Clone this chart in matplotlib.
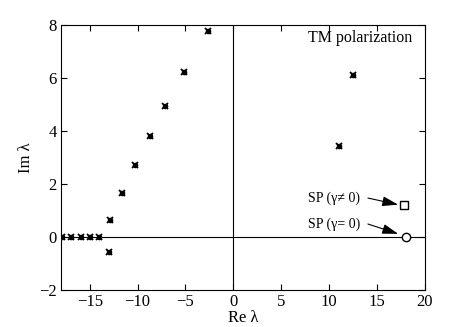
import matplotlib.pyplot as plt

plt.rcParams["font.family"] = ["Liberation Serif", "DejaVu Serif"]

# eigenvalues (Re, Im)
re_vals = [-17.9, -16.95, -15.95, -14.95, -14.0, -13.0, -12.9, -11.6, -10.25,
           -8.75, -7.1, -5.15, -2.7, 11.05, 12.45]
im_vals = [0.0, 0.0, 0.0, 0.0, 0.0, -0.57, 0.63, 1.66, 2.70,
           3.80, 4.94, 6.22, 7.75, 3.45, 6.10]

# surface plasmon points
sp_re = [17.85, 18.0]
sp_im = [1.22, 0.0]
sp_labels = ["SP (\u03b3\u2260 0)", "SP (\u03b3= 0)"]
sp_text_pos = [(7.8, 1.45), (7.8, 0.47)]
arrow_tail = [(14.05, 1.47), (14.05, 0.49)]
arrow_tip = [(17.2, 1.22), (17.2, 0.12)]

xticks = [-15, -10, -5, 0, 5, 10, 15, 20]
yticks = [-2, 0, 2, 4, 6, 8]

fig = plt.figure(figsize=(4.69, 3.27), dpi=100)
ax = fig.add_axes([0.130, 0.113, 0.776, 0.811])

ax.axhline(0, color="black", lw=0.8, zorder=1)
ax.axvline(0, color="black", lw=0.8, zorder=1)

ax.plot(re_vals, im_vals, "x", color="black", ms=5, mew=1.3, zorder=3)
ax.plot(re_vals, im_vals, ".", color="black", ms=6, zorder=3)

ax.plot(sp_re[0], sp_im[0], "s", mfc="white", mec="black", ms=6, mew=1.0, zorder=3)
ax.plot(sp_re[1], sp_im[1], "o", mfc="white", mec="black", ms=6, mew=1.0, zorder=3)

for lbl, (tx, ty), tail, tip in zip(sp_labels, sp_text_pos, arrow_tail, arrow_tip):
    ax.text(tx, ty, lbl, fontsize=10, ha="left", va="center")
    ax.annotate("", xy=tip, xytext=tail,
                arrowprops=dict(arrowstyle="-|>,head_length=0.8,head_width=0.25",
                                color="black", lw=0.8, mutation_scale=12,
                                shrinkA=0, shrinkB=0))

ax.text(18.65, 7.52, "TM polarization", fontsize=11.5, ha="right", va="center")

ax.set_xlim(-18, 20)
ax.set_ylim(-2, 8)
ax.set_xticks(xticks)
ax.set_yticks(yticks)
ax.tick_params(direction="in", top=True, right=True, labelsize=12, length=4, pad=3)
ax.set_xlabel("Re \u03bb", fontsize=12, labelpad=0)
ax.set_ylabel("Im \u03bb", fontsize=12, labelpad=4)

fig.savefig("out.png", dpi=100)
